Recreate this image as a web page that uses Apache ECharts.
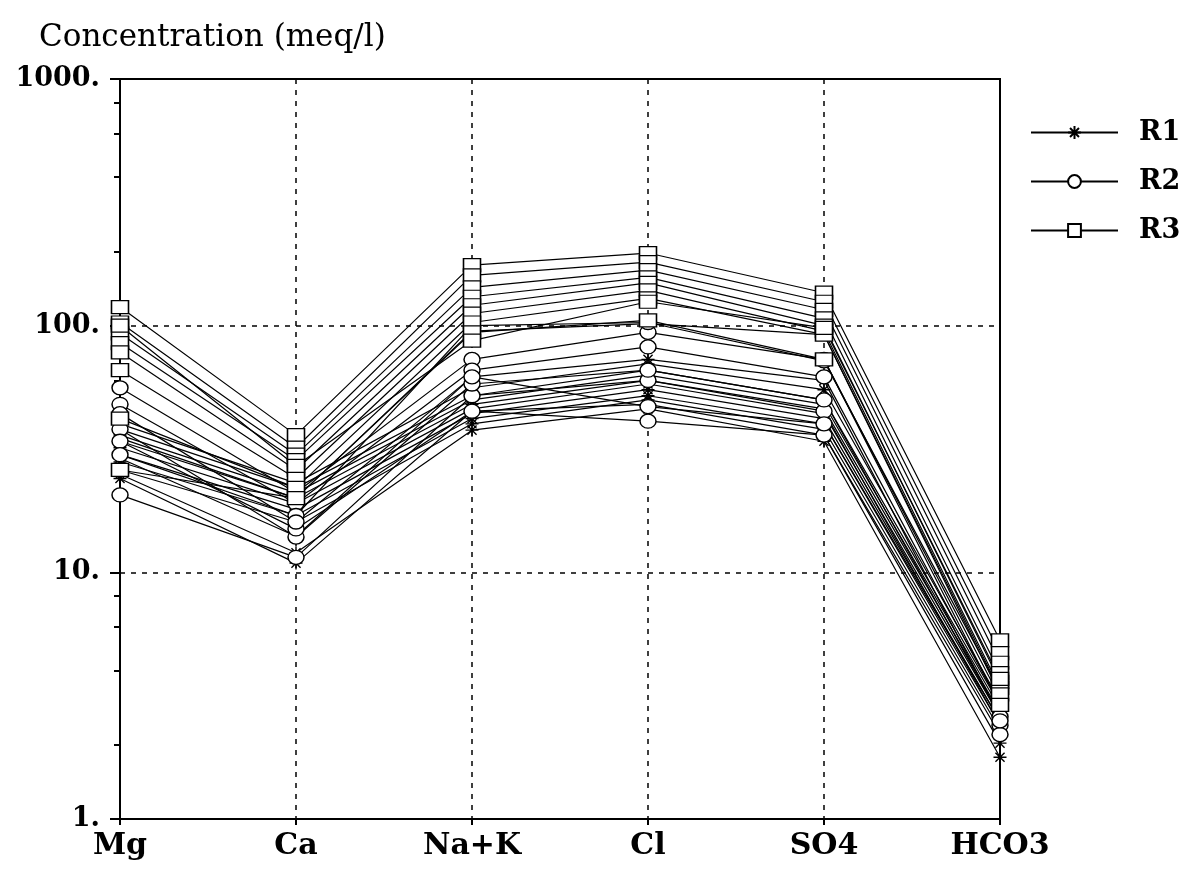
<!DOCTYPE html>
<html>
<head>
<meta charset="utf-8">
<script src="https://cdn.jsdelivr.net/npm/echarts@6/dist/echarts.min.js"></script>
<style>
  html, body { margin: 0; padding: 0; background: #fff; }
  #chart { width: 1195px; height: 870px; }
</style>
</head>
<body>
<div id="chart"></div>
<script>
// Ions on the x axis (Schoeller diagram)
const ions = ['Mg', 'Ca', 'Na+K', 'Cl', 'SO4', 'HCO3'];

// Concentrations in meq/l, one row per water sample, columns follow `ions`
const r1Samples = [
  [40, 23, 56, 70, 55, 3.0],
  [38, 22, 52, 66, 50, 2.9],
  [36, 21, 50, 63, 48, 2.8],
  [34, 20, 48, 60, 46, 2.7],
  [32, 19, 46, 58, 44, 2.6],
  [30, 18, 44, 55, 42, 2.5],
  [28, 17, 42, 52, 40, 2.4],
  [26, 16, 40, 50, 38, 2.3],
  [25, 12, 37.7, 46, 34, 1.78],
  [24, 10.9, 45, 48, 36, 2.03],
  [35, 20, 95, 102, 92, 3.3],
  [29, 14, 62, 73, 60, 2.6]
];
const r2Samples = [
  [56, 21, 73, 94, 73, 3.1],
  [48, 19, 66, 82, 62, 2.9],
  [20.6, 11.5, 52, 60, 45, 2.4],
  [38, 13.9, 58, 66, 50, 2.6],
  [34, 15, 45, 41, 36, 2.2],
  [30, 17, 100, 103, 72, 3.3],
  [44, 16, 62, 47, 40, 2.5]
];
const r3Samples = [
  [119, 36, 176, 197, 136, 5.3],
  [103, 32, 160, 181, 125, 4.7],
  [93, 30, 143, 168, 116, 4.3],
  [85, 28.5, 131, 157, 107, 3.9],
  [78, 26, 121, 149, 100, 3.6],
  [66, 24, 112, 139, 95, 3.4],
  [42, 22, 103, 129, 92, 3.2],
  [26, 20, 94, 105, 73, 2.9],
  [100, 27, 87, 125, 98, 3.7]
];

// Log-axis decade labels and the minor ticks between them
const yTickLabels = ['1.', '10.', '100.', '1000.'];
const minorTickValues = [2, 4, 6, 8, 20, 40, 60, 80, 200, 400, 600, 800];

const FONT = '"DejaVu Serif", "Liberation Serif", serif';
const STAR = 'path://M6,0L6,12M0,6L12,6M1.8,1.8L10.2,10.2M1.8,10.2L10.2,1.8';

const groups = [
  { name: 'R1', rows: r1Samples, symbol: STAR, size: 13, fill: '#000' },
  { name: 'R2', rows: r2Samples, symbol: 'circle', size: [16, 14], fill: '#fff' },
  { name: 'R3', rows: r3Samples, symbol: 'rect', size: [17, 13], fill: '#fff' }
];

const series = [];
groups.forEach(g => {
  g.rows.forEach(row => {
    series.push({
      name: g.name,
      type: 'line',
      data: row,
      symbol: g.symbol,
      symbolSize: g.size,
      showAllSymbol: true,
      lineStyle: { color: '#000', width: 1.2 },
      itemStyle: { color: g.fill, borderColor: '#000', borderWidth: 1.4 },
      emphasis: { disabled: true },
      z: 2
    });
  });
});

const chart = echarts.init(document.getElementById('chart'), null, { renderer: 'canvas' });
chart.setOption({
  animation: false,
  backgroundColor: '#fff',
  title: {
    text: 'Concentration (meq/l)',
    left: 34,
    top: 17,
    textStyle: { fontFamily: FONT, fontSize: 31, fontWeight: 'normal', color: '#000' }
  },
  legend: {
    data: ['R1', 'R2', 'R3'],
    orient: 'vertical',
    left: 1025,
    top: 114,
    itemWidth: 87,
    itemHeight: 16,
    itemGap: 22,
    textStyle: { fontFamily: FONT, fontSize: 27, fontWeight: 'bold', color: '#000', padding: [0, 0, 0, 16], lineHeight: 26 }
  },
  grid: {
    left: 120, right: 195, top: 79, bottom: 51,
    show: true, borderColor: '#000', borderWidth: 2, backgroundColor: 'transparent'
  },
  xAxis: {
    type: 'category',
    data: ions,
    boundaryGap: false,
    axisLine: { lineStyle: { color: '#000', width: 2 } },
    axisTick: { show: true, alignWithLabel: true, length: 6, lineStyle: { color: '#000', width: 2 } },
    axisLabel: { fontFamily: FONT, fontSize: 30, fontWeight: 'bold', color: '#000', margin: 12 },
    splitLine: { show: true, lineStyle: { color: '#000', width: 1.5, type: [5, 6] } }
  },
  yAxis: [
    {
      type: 'log',
      logBase: 10,
      min: 1,
      max: 1000,
      axisLine: { show: true, lineStyle: { color: '#000', width: 2 } },
      axisTick: { show: true, length: 10, lineStyle: { color: '#000', width: 2 } },
      axisLabel: {
        fontFamily: FONT, fontSize: 27, fontWeight: 'bold', color: '#000', margin: 20,
        formatter: v => yTickLabels[Math.round(Math.log10(v))]
      },
      splitLine: { show: true, lineStyle: { color: '#000', width: 1.5, type: [5, 6] } }
    },
    {
      type: 'log',
      logBase: 10,
      min: 1,
      max: 1000,
      position: 'left',
      axisLine: { show: false },
      axisLabel: { show: false },
      splitLine: { show: false },
      axisTick: { show: true, length: 6, customValues: minorTickValues, lineStyle: { color: '#000', width: 2 } }
    }
  ],
  series: series
});
</script>
</body>
</html>
